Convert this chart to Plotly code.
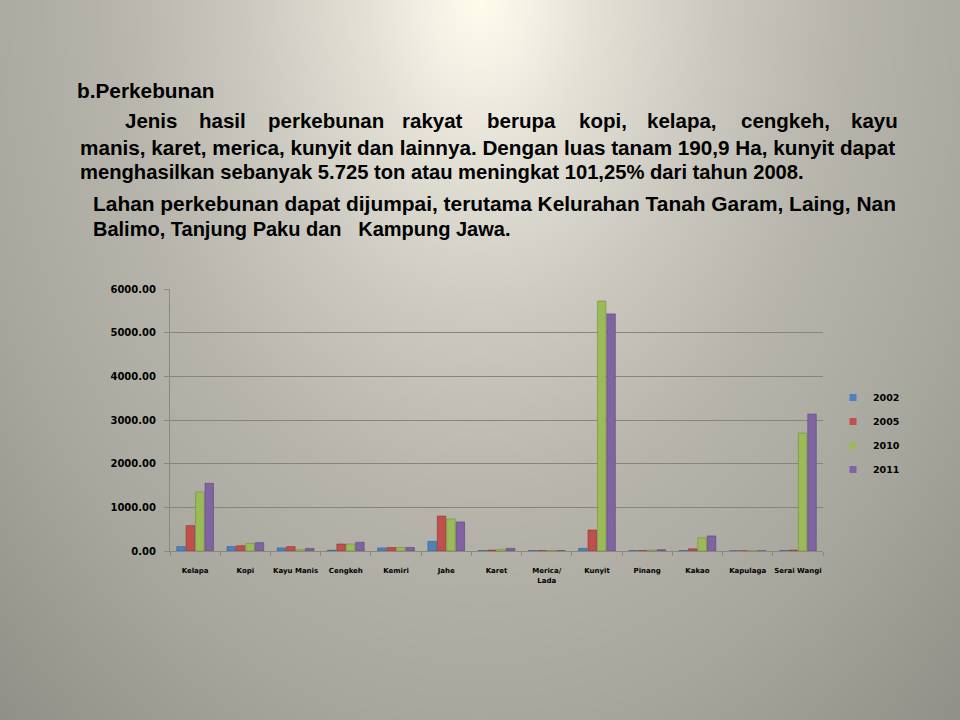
import numpy as np
import plotly.graph_objects as go

# ---------------- data ----------------
categories = ["Kelapa", "Kopi", "Kayu Manis", "Cengkeh", "Kemiri", "Jahe", "Karet",
              "Merica/<br>Lada", "Kunyit", "Pinang", "Kakao", "Kapulaga", "Serai Wangi"]
years = ["2002", "2005", "2010", "2011"]
v2002 = [100, 100, 70, 20, 70, 220, 10, 10, 60, 10, 10, 5, 10]
v2005 = [580, 120, 100, 160, 80, 800, 20, 10, 480, 10, 50, 5, 20]
v2010 = [1350, 170, 30, 160, 80, 735, 40, 10, 5725, 20, 300, 5, 2700]
v2011 = [1550, 190, 60, 200, 80, 665, 60, 10, 5430, 30, 345, 5, 3135]
series = [v2002, v2005, v2010, v2011]
colors = ["#4F81BD", "#C0504D", "#9BBB59", "#8064A2"]
edges = ["#2F5F95", "#8E2F2C", "#6E8F34", "#5A4479"]
y_ticks = [0, 1000, 2000, 3000, 4000, 5000, 6000]

title_text = "b.Perkebunan"
line1_words = ["Jenis", "hasil", "perkebunan", "rakyat", "berupa", "kopi,", "kelapa,", "cengkeh,", "kayu"]
line2 = "manis, karet, merica, kunyit dan lainnya. Dengan luas tanam 190,9 Ha, kunyit dapat"
line3 = "menghasilkan sebanyak 5.725 ton atau meningkat 101,25% dari tahun 2008."
line4 = "Lahan perkebunan dapat dijumpai, terutama Kelurahan Tanah Garam, Laing, Nan"
line5 = "Balimo, Tanjung Paku dan \u00a0 Kampung Jawa."

W, H = 960, 720
fig = go.Figure()

# ---------------- background gradient (slide) ----------------
gx = np.linspace(-40, W + 40, 53)
gy = np.linspace(-40, H + 40, 41)
XX, YY = np.meshgrid(gx, gy)
R = np.sqrt(((XX - 480) / 520) ** 2 + (YY / 720) ** 2)
stops = [(0.0, (255, 252, 236)), (0.1, (243, 241, 228)), (0.22, (227, 225, 214)),
         (0.45, (203, 201, 191)), (0.7, (183, 181, 171)), (1.0, (168, 167, 157)),
         (1.5, (136, 134, 127))]
cs = [[s / 1.5, "rgb(%d,%d,%d)" % c] for s, c in stops]
fig.add_trace(go.Heatmap(x=gx, y=gy, z=np.clip(R, 0, 1.5), zmin=0, zmax=1.5, colorscale=cs,
                         showscale=False, zsmooth="best", hoverinfo="skip",
                         xaxis="x", yaxis="y"))

# ---------------- bars ----------------
for yr, vals, c, e in zip(years, series, colors, edges):
    fig.add_trace(go.Bar(x=categories, y=vals, name=yr, marker=dict(color=c, line=dict(color=e, width=0.6)),
                         xaxis="x2", yaxis="y2", showlegend=False, legendgroup=yr))
    fig.add_trace(go.Scatter(x=[None], y=[None], mode="markers", name=yr, legendgroup=yr,
                             marker=dict(symbol="square", size=7, color=c),
                             xaxis="x2", yaxis="y2", showlegend=True))

x0, x1 = 170, 823
ytop, ybot = 289, 551
fig.update_layout(
    width=W, height=H, margin=dict(l=0, r=0, t=0, b=0, autoexpand=False),
    paper_bgcolor="#a9a79c", plot_bgcolor="rgba(0,0,0,0)",
    barmode="group", bargap=0.25, bargroupgap=0.1,
    xaxis=dict(domain=[0, 1], range=[0, W], visible=False, fixedrange=True, automargin=False),
    yaxis=dict(domain=[0, 1], range=[H, 0], visible=False, fixedrange=True, automargin=False),
    xaxis2=dict(domain=[x0 / W, x1 / W], anchor="y2", type="category", automargin=False,
                showline=True, linecolor="#8a887f", linewidth=1, tickangle=0,
                ticks="outside", tickson="boundaries", ticklen=4, tickcolor="#8a887f",
                showgrid=False,
                tickfont=dict(family="DejaVu Sans", size=7, color="black", weight="bold"),
                ticklabelstandoff=13),
    yaxis2=dict(domain=[(H - ybot) / H, (H - ytop) / H], anchor="x2", range=[0, 6000],
                tickvals=y_ticks, tickformat=".2f", automargin=False,
                showline=True, linecolor="#8a887f", linewidth=1,
                showgrid=True, gridcolor="#86847b", gridwidth=1,
                zeroline=False, ticks="outside", ticklen=5, tickcolor="#8a887f",
                tickfont=dict(family="DejaVu Sans", size=10, color="black", weight="bold"),
                ticklabelstandoff=6),
    legend=dict(x=833 / W, y=(H - 383) / H, xanchor="left", yanchor="top",
                bgcolor="rgba(0,0,0,0)", tracegroupgap=5, itemwidth=30,
                font=dict(family="DejaVu Sans", size=9.5, color="black", weight="bold")),
)

# ---------------- slide text ----------------
tfont = "Liberation Sans, Arial, sans-serif"
def ann(text, x, y, size=20.5, anchor="left"):
    fig.add_annotation(text=text, x=x / W, y=(H - y) / H, xref="paper", yref="paper",
                       xanchor=anchor, yanchor="middle", showarrow=False,
                       font=dict(family=tfont, size=size, color="black", weight="bold"))

ann(title_text, 75, 90, size=20.8)
line1_x = [123, 197, 266, 400, 485, 577, 645, 739, 849]
for w_, x_ in zip(line1_words, line1_x):
    ann(w_, x_, 121)
ann(line2, 78, 147, size=20.7)
ann(line3, 78, 172, size=20.2)
ann(line4, 91, 203, size=20.9)
ann(line5, 91, 229, size=20.0)

fig.write_html("out.html")
